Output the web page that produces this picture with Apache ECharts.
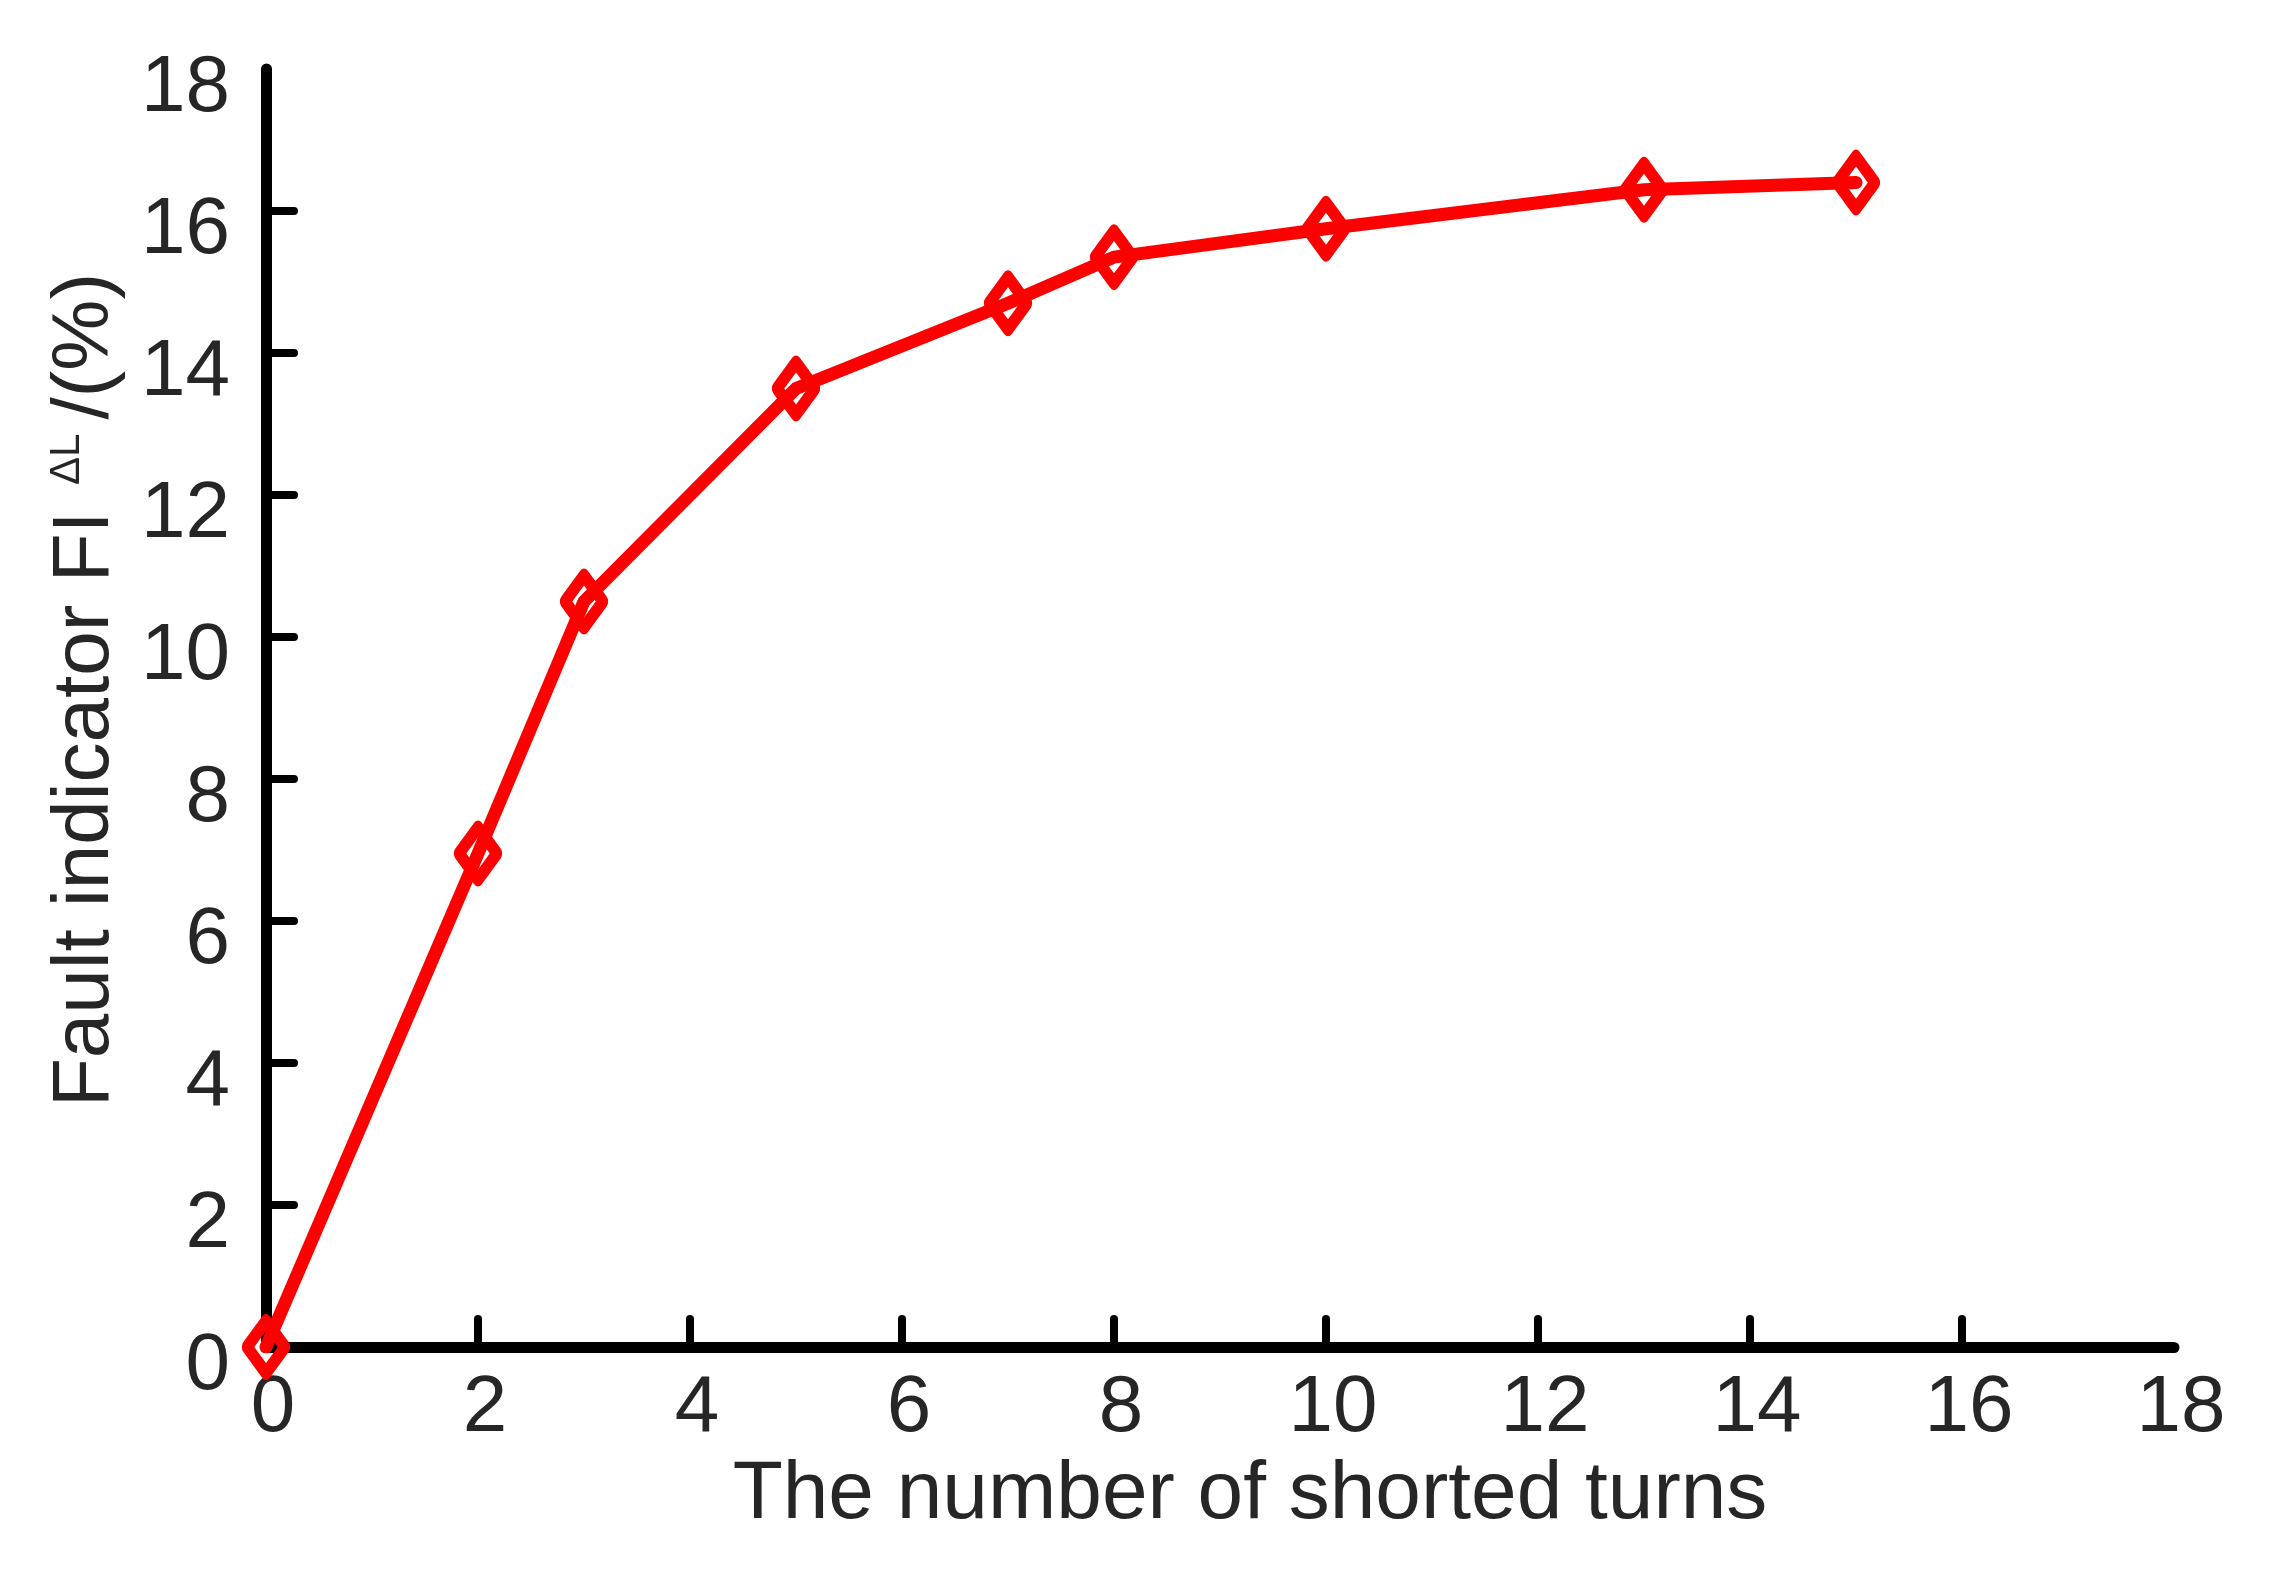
<!DOCTYPE html>
<html>
<head>
<meta charset="utf-8">
<script src="https://cdn.jsdelivr.net/npm/echarts@6/dist/echarts.min.js"></script>
<style>html,body{margin:0;padding:0;background:#fff;}#c{width:2288px;height:1575px;}</style>
</head>
<body>
<div id="c"></div>
<script>
const turns = [0, 2, 3, 5, 7, 8, 10, 13, 15];
const faultIndicator = [0, 6.95, 10.5, 13.5, 14.7, 15.35, 15.75, 16.3, 16.4];
const tickValues = [0, 2, 4, 6, 8, 10, 12, 14, 16, 18];
const innerTicks = [2, 4, 6, 8, 10, 12, 14, 16];

const FONT = '"Liberation Sans", Arial, sans-serif';
const TXT = '#262626';

const chart = echarts.init(document.getElementById('c'), null, {renderer: 'canvas'});
chart.setOption({
  backgroundColor: '#fff',
  animation: false,
  grid: {left: 266, right: 114, top: 69, bottom: 228, containLabel: false},
  xAxis: {
    type: 'value', min: 0, max: 18, interval: 2,
    name: 'The number of shorted turns',
    nameLocation: 'middle', nameGap: 100,
    nameTextStyle: {fontFamily: FONT, fontSize: 82, color: TXT, padding: [0, 0, 0, 60]},
    axisLine: {show: true, lineStyle: {color: '#000', width: 11, cap: 'round'}},
    axisTick: {show: true, inside: true, length: 28, customValues: innerTicks, lineStyle: {color: '#000', width: 8, cap: 'round'}},
    axisLabel: {customValues: tickValues, margin: 22, fontFamily: FONT, fontSize: 80, color: TXT, padding: [0, 0, 0, 14]},
    splitLine: {show: false}
  },
  yAxis: {
    type: 'value', min: 0, max: 18, interval: 2,
    name: '{a|Fault indicator FI }{s|ΔL}{a|/(%)}',
    nameLocation: 'middle', nameGap: 140, nameRotate: 90,
    nameTextStyle: {
      fontFamily: FONT, fontSize: 80, color: TXT, padding: [0, 0, 0, 36],
      rich: {
        a: {fontFamily: FONT, fontSize: 80, color: TXT},
        s: {fontFamily: FONT, fontSize: 42, color: TXT, verticalAlign: 'top', padding: [0, 14, 0, 4]}
      }
    },
    axisLine: {show: true, lineStyle: {color: '#000', width: 11, cap: 'round'}},
    axisTick: {show: true, inside: true, length: 28, customValues: innerTicks, lineStyle: {color: '#000', width: 8, cap: 'round'}},
    axisLabel: {
      customValues: tickValues, margin: 36, fontFamily: FONT, fontSize: 80, color: TXT,
      formatter: v => '{v|' + v + '}',
      rich: {v: {fontFamily: FONT, fontSize: 80, color: TXT, padding: [40, 0, 0, 0]}}
    },
    splitLine: {show: false}
  },
  series: [{
    type: 'line',
    data: turns.map((t, i) => [t, faultIndicator[i]]),
    symbol: 'diamond',
    symbolSize: [38, 52],
    showAllSymbol: true,
    lineStyle: {color: '#ff0000', width: 13, cap: 'round', join: 'round'},
    itemStyle: {color: 'rgba(255,255,255,0)', borderColor: '#ff0000', borderWidth: 12, borderJoin: 'round'},
    z: 5
  }]
});
</script>
</body>
</html>
